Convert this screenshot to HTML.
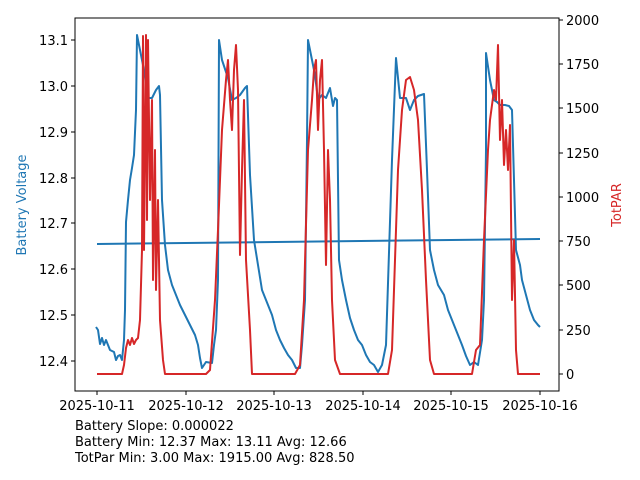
<!DOCTYPE html><html><head><style>body{margin:0;background:#fff}svg{display:block}text{font-family:"DejaVu Sans","Liberation Sans",sans-serif;font-size:13px}</style></head><body>
<svg width="640" height="480" viewBox="0 0 640 480">
<g fill="none" stroke-width="2" stroke-linejoin="round">
<polyline stroke="#1f77b4" points="96,327 98,330 100,344 102,338 104,345 106,340 110,350 114,352 116,360 118,356 120,355 122,360 124,340 125,310 126,222 128,200 130,180 132,168 134,155 136,110 137,35 140,50 144,70 148,98 152,98 156,90 159,86 160,95 162,200 165,245 168,270 172,285 176,295 180,305 185,315 190,325 195,335 198,345 200,358 202,368 206,362 212,363 214,345 216,330 218,280 219,40 222,60 228,78 232,100 236,98 240,95 245,88 247,86 250,175 254,240 258,265 262,290 268,305 272,315 276,330 280,340 284,348 288,355 292,360 296,368 300,368 302,345 305,300 307,140 308,40 312,60 315,75 318,100 322,95 326,98 330,88 333,106 335,98 337,100 339,260 342,280 346,300 350,318 354,330 358,340 362,345 366,355 370,362 374,365 378,372 382,365 386,345 392,160 396,58 400,98 406,98 410,110 414,100 418,96 424,94 427,170 430,250 434,270 438,285 444,295 448,310 452,320 458,335 462,345 466,356 470,365 474,362 478,365 482,340 484,300 486,150 486,53 490,80 492,90 494,100 497,102 500,105 505,105 509,106 512,110 516,250 520,265 522,280 526,295 530,310 534,320 538,325 540,327"/>
<line x1="97" y1="244" x2="540" y2="239" stroke="#1f77b4"/>
<polyline stroke="#d62728" points="97,374 122,374 124,365 126,348 128,340 130,345 132,338 134,344 136,340 138,338 140,320 142,250 143,36 144,250 146,35 147,220 148,40 150,200 152,100 153,280 155,150 156,290 158,200 160,320 163,360 165,374 206,374 210,370 215,300 218,230 222,130 226,80 228,60 230,100 232,130 234,70 236,45 238,90 240,255 242,170 244,100 246,260 250,330 252,374 295,374 300,365 304,300 308,150 312,100 314,70 316,60 318,130 320,80 322,60 324,150 326,265 328,150 330,200 332,300 335,360 340,374 388,374 392,350 395,260 398,170 402,110 406,80 410,77 414,90 418,120 422,190 426,280 430,360 434,374 472,374 476,350 480,345 484,240 488,150 490,120 494,90 496,100 498,45 500,140 502,100 504,165 506,130 508,170 510,125 512,300 514,240 516,350 518,374 540,374"/>
</g>
<rect x="75" y="18" width="484" height="373" fill="none" stroke="#000" stroke-width="1"/>
<g stroke="#000">
<line x1="71" x2="75" y1="40" y2="40"/><line x1="71" x2="75" y1="86" y2="86"/><line x1="71" x2="75" y1="132" y2="132"/><line x1="71" x2="75" y1="178" y2="178"/><line x1="71" x2="75" y1="223" y2="223"/><line x1="71" x2="75" y1="269" y2="269"/><line x1="71" x2="75" y1="315" y2="315"/><line x1="71" x2="75" y1="361" y2="361"/>
<line x1="559" x2="563" y1="20" y2="20"/><line x1="559" x2="563" y1="64" y2="64"/><line x1="559" x2="563" y1="108" y2="108"/><line x1="559" x2="563" y1="153" y2="153"/><line x1="559" x2="563" y1="197" y2="197"/><line x1="559" x2="563" y1="241" y2="241"/><line x1="559" x2="563" y1="285" y2="285"/><line x1="559" x2="563" y1="330" y2="330"/><line x1="559" x2="563" y1="374" y2="374"/>
<line x1="97" x2="97" y1="391" y2="395"/><line x1="186" x2="186" y1="391" y2="395"/><line x1="274" x2="274" y1="391" y2="395"/><line x1="363" x2="363" y1="391" y2="395"/><line x1="451" x2="451" y1="391" y2="395"/><line x1="540" x2="540" y1="391" y2="395"/>
</g>
<g text-anchor="end" fill="#000">
<text x="68" y="45">13.1</text><text x="68" y="91">13.0</text><text x="68" y="137">12.9</text><text x="68" y="183">12.8</text><text x="68" y="228">12.7</text><text x="68" y="274">12.6</text><text x="68" y="320">12.5</text><text x="68" y="366">12.4</text>
</g>
<g fill="#000">
<text x="566" y="25">2000</text><text x="566" y="69">1750</text><text x="566" y="113">1500</text><text x="566" y="158">1250</text><text x="566" y="202">1000</text><text x="566" y="246">750</text><text x="566" y="290">500</text><text x="566" y="335">250</text><text x="566" y="379">0</text>
</g>
<g text-anchor="middle" fill="#000">
<text x="97" y="410">2025-10-11</text><text x="186" y="410">2025-10-12</text><text x="274" y="410">2025-10-13</text><text x="363" y="410">2025-10-14</text><text x="451" y="410">2025-10-15</text><text x="540" y="410">2025-10-16</text>
</g>
<text transform="translate(26,205) rotate(-90)" text-anchor="middle" fill="#1f77b4">Battery Voltage</text>
<text transform="translate(621,205) rotate(-90)" text-anchor="middle" fill="#d62728">TotPAR</text>
<g fill="#000"><text x="75" y="430">Battery Slope: 0.000022</text><text x="75" y="446">Battery Min: 12.37 Max: 13.11 Avg: 12.66</text><text x="75" y="462">TotPar Min: 3.00 Max: 1915.00 Avg: 828.50</text></g>
</svg></body></html>
